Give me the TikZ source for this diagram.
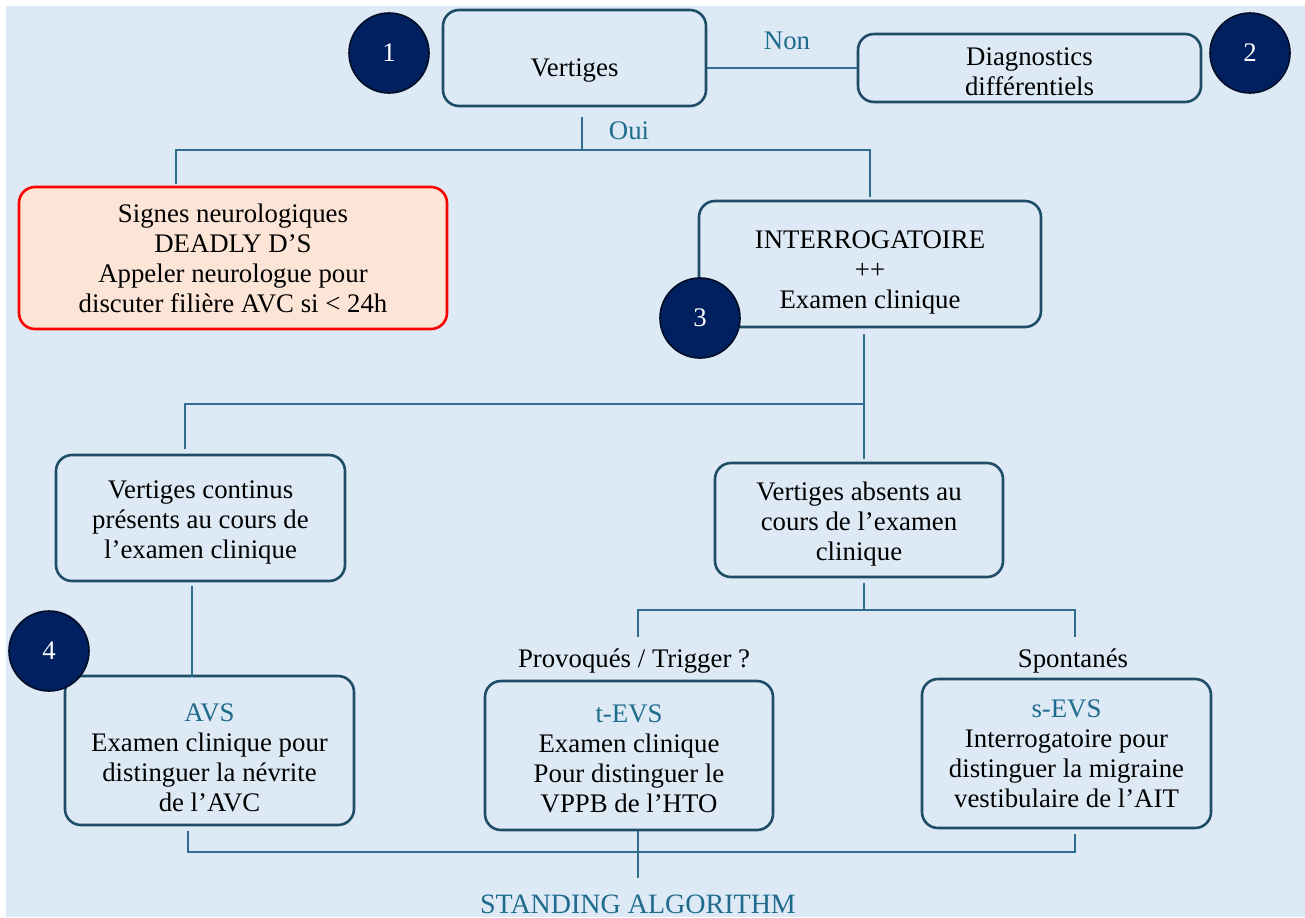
\documentclass[tikz,border=0pt]{standalone}
\usepackage{fontspec}
\setmainfont{Liberation Serif}
\definecolor{bgblue}{HTML}{DDEAF6}
\definecolor{boxline}{HTML}{1D4E66}
\definecolor{linkblue}{HTML}{2F6E8E}
\definecolor{navy}{HTML}{002060}
\definecolor{tealtxt}{HTML}{1F6B8C}
\definecolor{alertfill}{HTML}{FCE4D6}
% lower the first line of a box a little
\newcommand{\lowerby}[1]{\rule{0pt}{#1}}
\tikzset{
  stepbox/.style={draw=boxline, line width=1.3pt, rounded corners=8pt, align=center, inner sep=0pt},
  alertbox/.style={stepbox, draw=red, fill=alertfill},
  badge/.style={circle, fill=navy, draw=black!60!navy, line width=0.8pt, minimum size=40pt, text=white, inner sep=0pt},
  link/.style={draw=linkblue, line width=0.7pt},
  tag/.style={text=tealtxt, inner sep=0pt},
}
\begin{document}
\begin{tikzpicture}[x=0.5pt, y=-0.5pt, font=\fontsize{13.4}{15}\selectfont]
    \useasboundingbox (0,0) rectangle (1305,917);
    \fill[bgblue] (6,6) rectangle (1305,917);
    % boxes
    \node[stepbox, minimum width=131.5pt, minimum height=48pt] (vert) at (574.5,58) {\lowerby{21pt}Vertiges};
    \node[stepbox, minimum width=171.5pt, minimum height=34pt] (diag) at (1029.5,68) {\lowerby{13pt}Diagnostics\\différentiels};
    \node[alertbox, minimum width=214pt, minimum height=71pt] (alert) at (233,258)
        {Signes neurologiques\\DEADLY D’S\\Appeler neurologue pour\\discuter filière AVC si < 24h};
    \node[stepbox, minimum width=171pt, minimum height=63pt] (interro) at (870,264)
        {\lowerby{17pt}INTERROGATOIRE\\++\\Examen clinique};
    \node[stepbox, minimum width=144.5pt, minimum height=63pt] (cont) at (200.5,518)
        {\lowerby{13pt}Vertiges continus\\présents au cours de\\l’examen clinique};
    \node[stepbox, minimum width=144pt, minimum height=57pt] (abs) at (859,520)
        {\lowerby{13pt}Vertiges absents au\\cours de l’examen\\clinique};
    \node[stepbox, minimum width=144.5pt, minimum height=74.5pt] (avs) at (209.5,750.5)
        {\lowerby{16pt}\textcolor{tealtxt}{AVS}\\Examen clinique pour\\distinguer la névrite\\de l’AVC};
    \node[stepbox, minimum width=144pt, minimum height=74.5pt] (tevs) at (629,755.5)
        {\lowerby{12.5pt}\textcolor{tealtxt}{t-EVS}\\Examen clinique\\Pour distinguer le\\VPPB de l’HTO};
    \node[stepbox, minimum width=144.5pt, minimum height=74.5pt] (sevs) at (1066.5,753.5)
        {\textcolor{tealtxt}{s-EVS}\\Interrogatoire pour\\distinguer la migraine\\vestibulaire de l’AIT};
    % numbered badges
    \node[badge] (b1) at (389,53) {1};
    \node[badge] (b2) at (1250,53) {2};
    \node[badge] (b3) at (700,318) {3};
    \node[badge] (b4) at (49,651) {4};
    % labels
    \node[tag] (non) at (787,41) {Non};
    \node[tag] (oui) at (629,131) {Oui};
    \node (prov) at (634,661) {Provoqués / Trigger ?};
    \node (spont) at (1073,661) {Spontanés};
    \node[tag, font=\fontsize{14}{15}\selectfont] (algo) at (638,904) {STANDING ALGORITHM};
    % joints
    \coordinate (j1) at (582,150);
    \coordinate (j2) at (864,404);
    \coordinate (j3) at (864,610);
    \coordinate (pl) at (638,637);
    \coordinate (pr) at (1075,637);
    \coordinate (j4) at (638,852);
    \coordinate (j5) at (638,878);
    % connectors
    \draw[link] (diag.west) -- (diag.west -| vert.east);
    \draw[link] ([xshift=3.75pt,yshift=-5pt]vert.south) -- (j1);
    \draw[link] ([xshift=-28.5pt,yshift=1pt]alert.north) |- (j1) -| ([yshift=1.5pt]interro.north);
    \draw[link] ([xshift=-3pt,yshift=-3pt]interro.south) -- (j2);
    \draw[link] ([xshift=-7.75pt,yshift=2.5pt]cont.north) |- (j2) -- ([xshift=2.5pt,yshift=1.5pt]abs.north);
    \draw[link] ([xshift=-4.25pt,yshift=-2pt]cont.south) -- ++(0,91);
    \draw[link] ([xshift=2.5pt,yshift=-2.5pt]abs.south) -- (j3);
    \draw[link] (pl) |- (j3) -| (pr);
    \draw[link] ([xshift=-10.75pt,yshift=-2.5pt]avs.south) |- (j4) -| ([xshift=4.25pt,yshift=-2.5pt]sevs.south);
    \draw[link] ([xshift=4.5pt]tevs.south) -- (j4) -- (j5);
\end{tikzpicture}
\end{document}
